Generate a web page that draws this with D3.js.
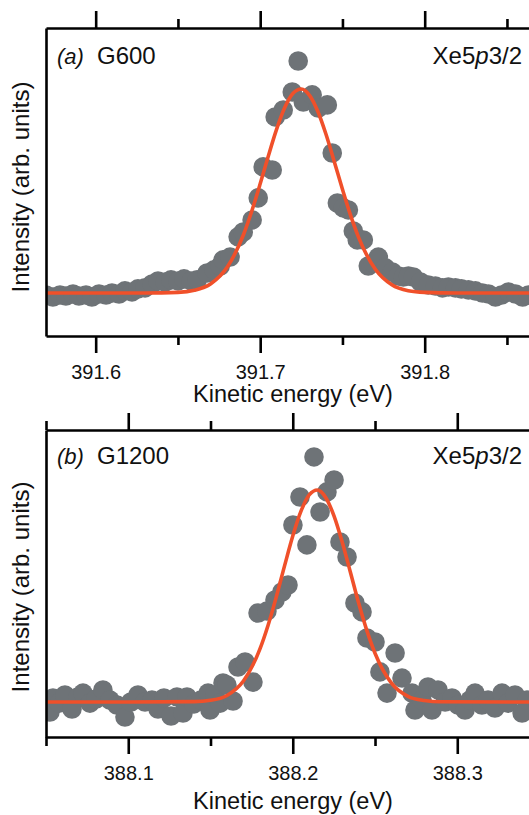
<!DOCTYPE html>
<html>
<head>
<meta charset="utf-8">
<script src="https://cdn.jsdelivr.net/npm/d3@7"></script>
<style>
  html, body { margin: 0; padding: 0; background: #fff; }
  svg { display: block; }
  text { font-family: "Liberation Sans", Arial, Helvetica, sans-serif; fill: #111; }
</style>
</head>
<body>
<svg id="chart" width="529" height="815"></svg>
<script>
// ---------- Panel (a) G600 : measured points ----------
const energyA = [391.5698,391.5740,391.5783,391.5819,391.5862,391.5898,391.5941,391.5977,391.6020,391.6063,
  391.6099,391.6142,391.6178,391.6221,391.6257,391.6300,391.6343,391.6379,391.6422,391.6458,
  391.6501,391.6537,391.6580,391.6617,391.6677,391.6720,391.6757,391.6775,391.6817,391.6866,
  391.6897,391.6951,391.6988,391.7018,391.7073,391.7091,391.7140,391.7195,391.7231,391.7262,
  391.7316,391.7353,391.7408,391.7438,391.7469,391.7505,391.7536,391.7566,391.7590,391.7627,
  391.7657,391.7688,391.7718,391.7761,391.7803,391.7840,391.7870,391.7901,391.7931,391.7974,
  391.8022,391.8065,391.8108,391.8144,391.8187,391.8223,391.8266,391.8308,391.8351,391.8388,
  391.8430,391.8467,391.8509,391.8552,391.8595,391.8631];
const intensityA = [-1.0,-2.0,-1.0,-1.5,-0.5,-1.5,-1.0,-2.0,-0.5,-1.0,
  0.0,-0.5,1.0,0.5,2.0,2.5,4.4,5.9,5.4,6.4,
  5.9,6.9,5.9,6.4,9.8,11.3,13.2,16.2,17.6,27.5,
  29.9,35.8,46.6,61.8,60.3,86.3,89.7,98.5,113.7,93.6,
  97.1,90.7,92.2,68.6,44.1,41.7,40.7,30.4,26.0,26.0,
  13.2,14.7,17.6,12.3,10.3,8.3,7.8,8.3,7.8,5.4,
  3.9,3.4,2.5,2.9,2.5,2.0,1.5,1.0,0.0,-0.5,
  -2.0,-1.0,0.5,-0.5,-2.0,-1.0];
// fitted curve (a)
const fitEnergyA = [391.570,391.600,391.630,391.650,391.660,391.670,391.680,391.690,391.695,391.700,
  391.705,391.710,391.715,391.720,391.725,391.730,391.735,391.740,391.745,391.750,
  391.755,391.760,391.770,391.780,391.790,391.800,391.820,391.870];
const fitIntensityA = [0,0,0,0.3,1.3,4.5,12.7,28.9,40.4,53.5,
  67.3,80.3,91.0,97.9,100,96.9,89.1,77.8,64.5,50.8,
  37.9,26.9,11.6,4.0,1.1,0.3,0,0];

// ---------- Panel (b) G1200 : measured points ----------
const energyB = [388.0500,388.0524,388.0542,388.0579,388.0615,388.0658,388.0694,388.0725,388.0767,388.0804,
  388.0846,388.0889,388.0931,388.0980,388.1016,388.1059,388.1102,388.1144,388.1181,388.1217,
  388.1260,388.1296,388.1333,388.1357,388.1399,388.1442,388.1485,388.1497,388.1527,388.1558,
  388.1576,388.1600,388.1637,388.1667,388.1710,388.1758,388.1789,388.1843,388.1892,388.1934,
  388.1971,388.2001,388.2044,388.2086,388.2129,388.2166,388.2208,388.2251,388.2287,388.2330,
  388.2378,388.2421,388.2451,388.2500,388.2530,388.2573,388.2622,388.2664,388.2725,388.2743,
  388.2786,388.2822,388.2846,388.2883,388.2926,388.2968,388.3005,388.3047,388.3077,388.3108,
  388.3150,388.3187,388.3229,388.3272,388.3308,388.3351,388.3394,388.3424];
const intensityB = [-2.8,-4.7,1.9,-0.5,3.3,-3.3,2.4,4.2,-0.5,1.4,
  5.7,0.9,-1.4,-7.1,0.0,3.3,0.0,0.9,-3.3,1.9,
  -6.6,2.4,-5.2,2.4,-0.9,0.9,4.2,-3.8,3.3,-0.5,
  9.0,8.0,0.5,16.5,18.9,9.4,42.0,42.9,48.1,51.9,
  55.2,83.5,96.7,74.1,115.6,89.6,99.1,104.7,75.5,68.4,
  46.7,42.5,30.2,28.3,14.2,4.2,23.1,11.3,4.2,-3.8,
  0.9,7.1,-3.8,5.7,0.0,1.9,-1.4,-3.8,0.9,4.2,
  -1.4,0.9,-2.8,4.2,-0.5,3.3,-5.2,0.9];
// fitted curve (b)
const fitEnergyB = [388.050,388.100,388.140,388.150,388.160,388.170,388.180,388.185,388.190,388.195,
  388.200,388.205,388.210,388.215,388.220,388.225,388.230,388.235,388.240,388.245,
  388.250,388.260,388.270,388.280,388.290,388.345];
const fitIntensityB = [0,0,0.2,0.8,3.1,9.9,24.9,36.2,49.6,64.2,
  78.3,90.0,97.7,100,96.5,87.9,75.6,61.3,46.8,33.8,
  23.0,8.9,2.7,0.7,0.1,0];

// ---------- ticks ----------
const majorTicksA = [391.6, 391.7, 391.8];
const minorTicksA = [391.65, 391.75, 391.85];
const majorTicksB = [388.1, 388.2, 388.3];
const minorTicksB = [388.05, 388.15, 388.25];

const xTitle = "Kinetic energy (eV)";
const yTitle = "Intensity (arb. units)";

// ---------- drawing ----------
const svg = d3.select("#chart");
const W = 529;
const dotColor = "#6e7377";
const fitColor = "#f0502a";

function panel(cfg) {
  const x = d3.scaleLinear().domain(cfg.xDomain).range([46, W]);
  const y = d3.scaleLinear().domain(cfg.yDomain).range([cfg.bottom, cfg.top]);
  const g = svg.append("g");

  const clipId = "clip-" + cfg.id;
  svg.append("defs").append("clipPath").attr("id", clipId)
    .append("rect").attr("x", 46).attr("y", cfg.top)
    .attr("width", W - 46).attr("height", cfg.bottom - cfg.top);

  const plot = g.append("g").attr("clip-path", `url(#${clipId})`);
  plot.selectAll("circle").data(cfg.energy.map((e, i) => [e, cfg.intensity[i]]))
    .enter().append("circle")
    .attr("cx", d => x(d[0])).attr("cy", d => y(d[1]))
    .attr("r", 9.8).attr("fill", dotColor);

  const line = d3.line().x(d => x(d[0])).y(d => y(d[1])).curve(d3.curveMonotoneX);
  plot.append("path")
    .datum(cfg.fitE.map((e, i) => [e, cfg.fitI[i]]))
    .attr("d", line).attr("fill", "none")
    .attr("stroke", fitColor).attr("stroke-width", 3.6)
    .attr("stroke-linejoin", "round");

  const fmt = d3.format(".1f");
  // bottom axis (major with labels)
  const bMaj = g.append("g").attr("transform", `translate(0,${cfg.bottom})`)
    .call(d3.axisBottom(x).tickValues(cfg.major).tickFormat(fmt).tickSize(17).tickSizeOuter(0).tickPadding(12));
  const bMin = g.append("g").attr("transform", `translate(0,${cfg.bottom})`)
    .call(d3.axisBottom(x).tickValues(cfg.minor).tickFormat("").tickSize(9).tickSizeOuter(0));
  bMin.select(".domain").remove();
  // top axis
  const tMaj = g.append("g").attr("transform", `translate(0,${cfg.top})`)
    .call(d3.axisTop(x).tickValues(cfg.major).tickFormat("").tickSize(17).tickSizeOuter(0));
  const tMin = g.append("g").attr("transform", `translate(0,${cfg.top})`)
    .call(d3.axisTop(x).tickValues(cfg.minor).tickFormat("").tickSize(9).tickSizeOuter(0));
  tMin.select(".domain").remove();
  // left axis (no ticks)
  const lAx = g.append("g").attr("transform", `translate(46,0)`)
    .call(d3.axisLeft(y).tickValues([]).tickSizeOuter(0));

  g.selectAll(".domain").attr("stroke", "#000").attr("stroke-width", 2.6);
  g.selectAll(".tick line").attr("stroke", "#000").attr("stroke-width", 2.6);
  g.selectAll(".tick text").attr("font-size", 20).attr("fill", "#111")
    .attr("font-family", '"Liberation Sans", Arial, sans-serif');

  // axis titles
  g.append("text").attr("x", 293).attr("y", cfg.xTitleY)
    .attr("text-anchor", "middle").attr("font-size", 23.5).text(xTitle);
  g.append("text").attr("transform", `translate(29,${cfg.yTitleY}) rotate(-90)`)
    .attr("text-anchor", "middle").attr("font-size", 24).text(yTitle);

  // panel labels
  g.append("text").attr("x", 57).attr("y", cfg.labelY)
    .attr("font-family", '"Liberation Serif", "Times New Roman", serif')
    .attr("font-style", "italic").attr("font-size", 22).text(cfg.tag);
  g.append("text").attr("x", 97).attr("y", cfg.labelY)
    .attr("font-size", 24).text(cfg.grating);
  const t = g.append("text").attr("x", 522).attr("y", cfg.labelY)
    .attr("text-anchor", "end").attr("font-size", 24);
  t.append("tspan").text("Xe5");
  t.append("tspan").attr("font-style", "italic").text("p");
  t.append("tspan").text("3/2");
}

panel({
  id: "a", energy: energyA, intensity: intensityA, fitE: fitEnergyA, fitI: fitIntensityA,
  xDomain: [391.5698, 391.8634], yDomain: [-21.1, 129.9], top: 28, bottom: 336,
  major: majorTicksA, minor: minorTicksA, xTitleY: 402, yTitleY: 187, labelY: 64,
  tag: "(a)", grating: "G600"
});
panel({
  id: "b", energy: energyB, intensity: intensityB, fitE: fitEnergyB, fitI: fitIntensityB,
  xDomain: [388.05, 388.3436], yDomain: [-16.5, 128.3], top: 430, bottom: 737,
  major: majorTicksB, minor: minorTicksB, xTitleY: 809, yTitleY: 587, labelY: 464,
  tag: "(b)", grating: "G1200"
});
</script>
</body>
</html>
